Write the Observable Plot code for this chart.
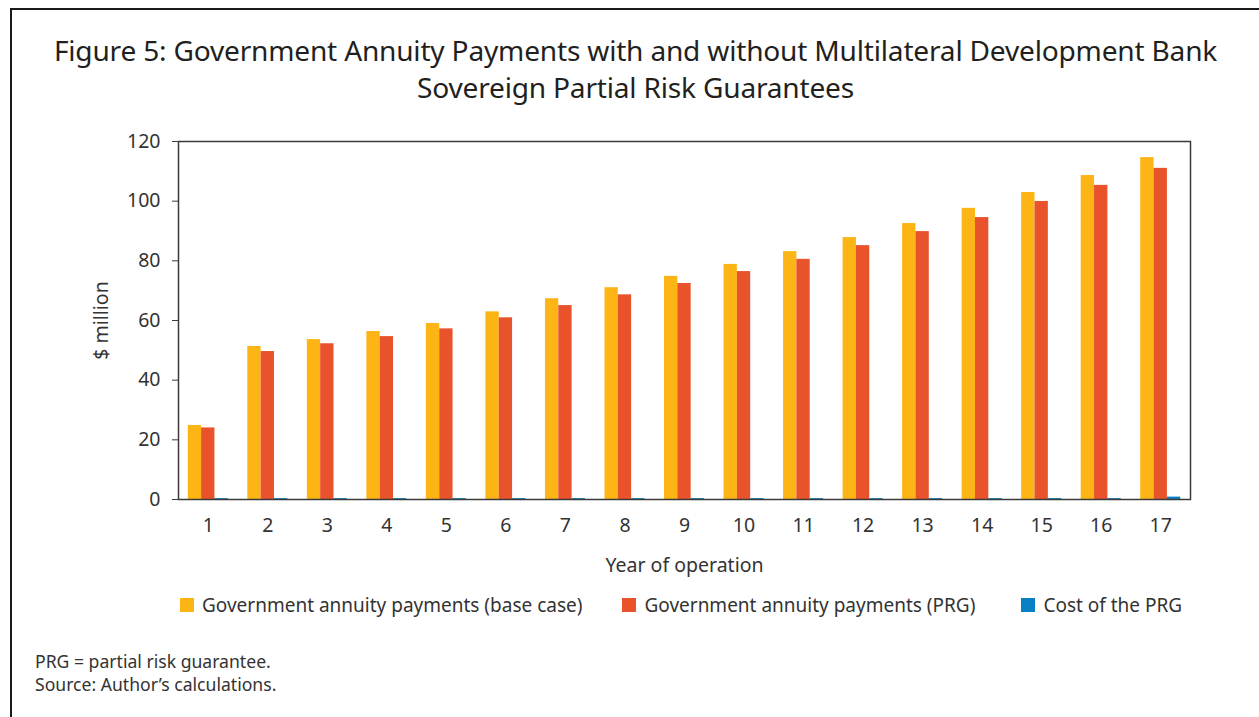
<!DOCTYPE html>
<html>
<head>
<meta charset="utf-8">
<script src="https://cdn.jsdelivr.net/npm/d3@7"></script>
<script src="https://cdn.jsdelivr.net/npm/@observablehq/plot@0.6"></script>
<style>
  html, body { margin: 0; padding: 0; background: #fff; }
  body { width: 1259px; height: 717px; position: relative; overflow: hidden; font-family: "Noto Sans", sans-serif; color: #231f20; }
  #border { position: absolute; left: 10px; top: 8px; width: 1300px; height: 800px; border-left: 2px solid #1a1a1a; border-top: 2px solid #1a1a1a; }
  #title { position: absolute; left: 0; top: 32px; width: 1271px; text-align: center; font-size: 28.1px; line-height: 37px; color: #231f20; letter-spacing: -0.2px; }
  #chart { position: absolute; left: 0; top: 120px; }
  #legend { position: absolute; left: 180px; top: 592px; font-size: 19px; color: #333; display: flex; white-space: nowrap; }
  .item { display: flex; align-items: center; }
  .sw { display: inline-block; width: 14px; height: 14px; margin-right: 8px; }
  #notes { position: absolute; left: 35px; top: 650px; font-size: 17.6px; line-height: 23px; color: #333; }
</style>
</head>
<body>
<div id="border"></div>
<div id="title">Figure 5: Government Annuity Payments with and without Multilateral Development Bank<br>Sovereign Partial Risk Guarantees</div>
<div id="chart"></div>
<div id="legend"></div>
<div id="notes">PRG = partial risk guarantee.<br>Source: Author’s calculations.</div>
<script>
const years = [1, 2, 3, 4, 5, 6, 7, 8, 9, 10, 11, 12, 13, 14, 15, 16, 17];
const baseCase = [24.8, 51.3, 53.6, 56.3, 59.0, 62.9, 67.3, 71.0, 74.8, 78.8, 83.1, 87.8, 92.5, 97.6, 102.9, 108.6, 114.6];
const prgCase = [24.0, 49.6, 52.2, 54.6, 57.2, 60.9, 65.0, 68.6, 72.4, 76.4, 80.5, 85.1, 89.8, 94.5, 99.9, 105.3, 111.0];
const prgCost = [0.3, 0.3, 0.3, 0.3, 0.3, 0.3, 0.3, 0.3, 0.3, 0.3, 0.3, 0.3, 0.3, 0.3, 0.3, 0.3, 0.8];
const seriesNames = ["Government annuity payments (base case)", "Government annuity payments (PRG)", "Cost of the PRG"];
const seriesColors = ["#fdb515", "#e9532b", "#0a80c4"];
const yTicks = [0, 20, 40, 60, 80, 100, 120];

const seriesValues = [baseCase, prgCase, prgCost];
const data = [];
seriesValues.forEach((vals, s) => {
  years.forEach((yr, i) => data.push({year: yr, idx: s, series: seriesNames[s], value: vals[i]}));
});
const bw = 0.224;
const x1 = d => d.year - 1.5 * bw + d.idx * bw;
const x2 = d => d.year - 1.5 * bw + (d.idx + 1) * bw;

const chart = Plot.plot({
  width: 1259,
  height: 460,
  marginLeft: 178,
  marginRight: 69,
  marginTop: 21,
  marginBottom: 81,
  style: {fontFamily: "Noto Sans, sans-serif", fontSize: "19.5px", color: "#333", background: "transparent"},
  x: {domain: [0.5, 17.5], ticks: years, label: null},
  y: {domain: [0, 120], ticks: yTicks, label: null},
  color: {domain: seriesNames, range: seriesColors},
  marks: [
    Plot.rectY(data, {x1, x2, y: "value", fill: "series"}),
    Plot.frame({stroke: "#3a3a3a", strokeWidth: 1.5}),
    Plot.axisY({ticks: yTicks, tickSize: 6, tickPadding: 12, stroke: "#3a3a3a", label: "$ million", labelAnchor: "center", labelOffset: 84, labelArrow: "none"}),
    Plot.axisX({ticks: years, tickSize: 0, tickPadding: 19, tickFormat: d => String(d), label: "Year of operation", labelAnchor: "center", labelOffset: 72, labelArrow: "none"})
  ]
});
document.getElementById("chart").appendChild(chart);

const legend = document.getElementById("legend");
const gaps = [0, 40, 46];
seriesNames.forEach((name, i) => {
  const it = document.createElement("div");
  it.className = "item";
  it.style.marginLeft = gaps[i] + "px";
  it.innerHTML = `<span class="sw" style="background:${seriesColors[i]}"></span><span>${name}</span>`;
  legend.appendChild(it);
});
</script>
</body>
</html>
